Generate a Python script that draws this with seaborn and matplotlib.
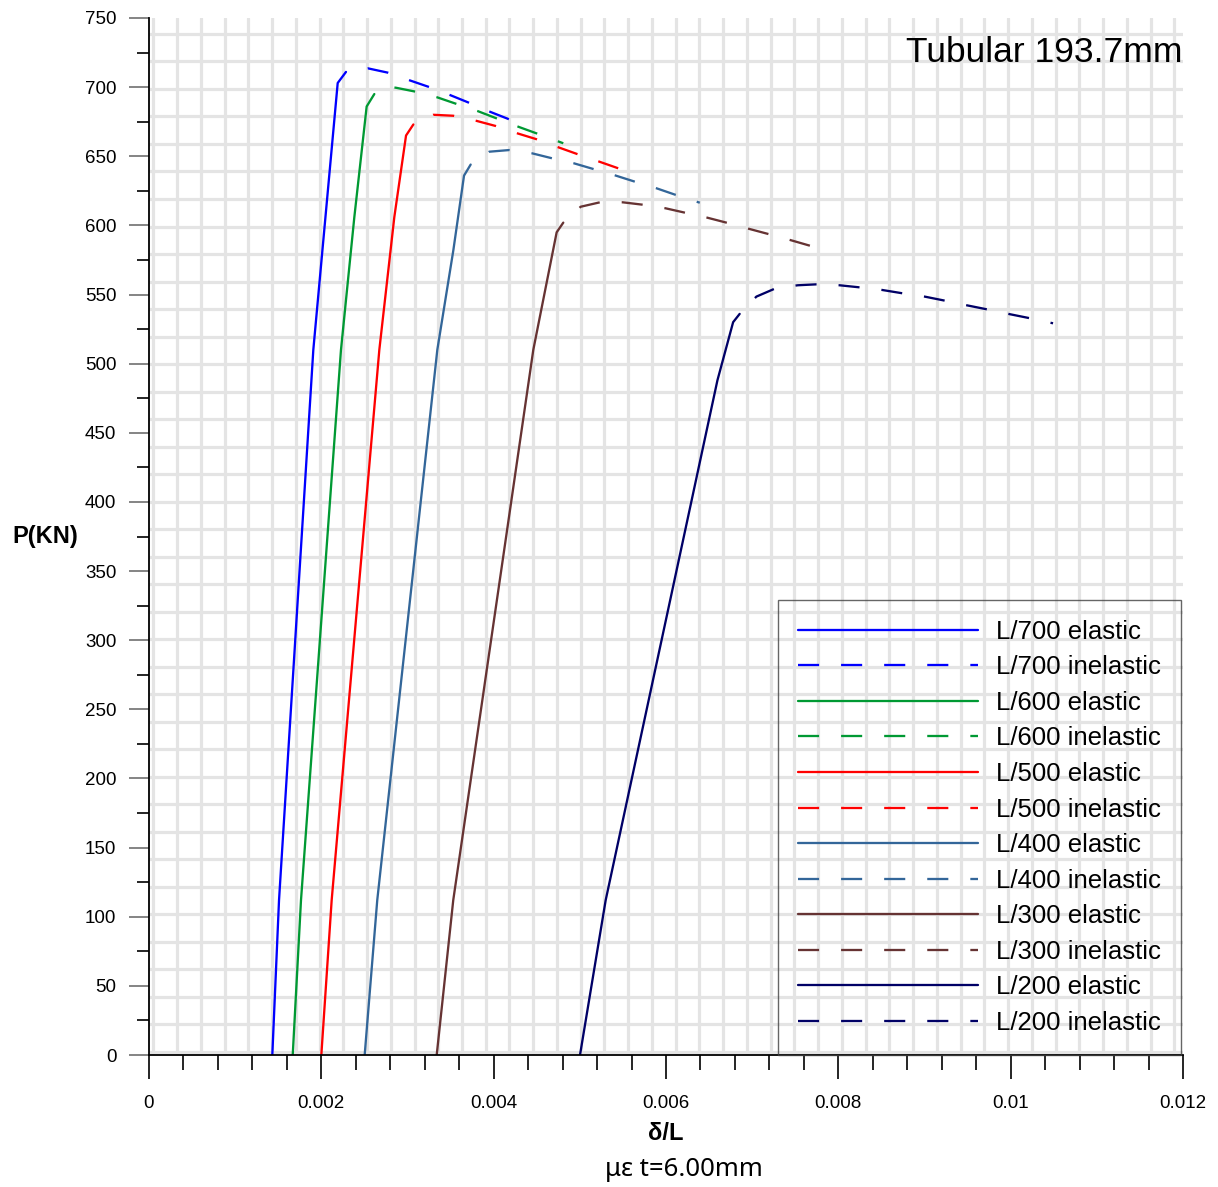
import numpy as np
import pandas as pd
import matplotlib
matplotlib.use("Agg")
import matplotlib.pyplot as plt
import seaborn as sns
from matplotlib.lines import Line2D
from matplotlib.ticker import MultipleLocator

# ---------------- data ----------------
series_names = ["L/700", "L/600", "L/500", "L/400", "L/300", "L/200"]
colors = ["#0000ff", "#009933", "#ff0000", "#336699", "#663333", "#000066"]

# elastic branches (delta/L, P)
el700_x = [0.001431, 0.001509, 0.001907, 0.002190, 0.002286]
el700_p = [0, 112, 510, 703, 711]
el600_x = [0.001668, 0.001764, 0.002228, 0.002383, 0.002526, 0.002615]
el600_p = [0, 112, 510, 606, 686, 695]
el500_x = [0.002000, 0.002120, 0.002673, 0.002847, 0.002983, 0.003068]
el500_p = [0, 112, 510, 606, 665, 673]
el400_x = [0.002503, 0.002649, 0.003346, 0.003532, 0.003656, 0.003733]
el400_p = [0, 112, 510, 582, 636, 644]
el300_x = [0.003339, 0.003531, 0.004460, 0.004731, 0.004808]
el300_p = [0, 112, 510, 595, 602]
el200_x = [0.005002, 0.005300, 0.006597, 0.006779, 0.006855]
el200_p = [0, 112, 488, 530, 536]

# inelastic branches
in700_x = [0.002286, 0.002540, 0.002770, 0.003021, 0.003241, 0.003493, 0.003714, 0.003957, 0.004181]
in700_p = [711, 713.6, 710.5, 705, 700.3, 694.3, 688.7, 682.2, 676.7]
in600_x = [0.002615, 0.002750, 0.002863, 0.003095, 0.003346, 0.003571, 0.003822, 0.004042, 0.004297, 0.004518, 0.004808]
in600_p = [695, 700, 699.6, 696.7, 692.6, 687.8, 682.5, 677.2, 671.1, 666.1, 659.4]
in500_x = [0.003068, 0.003300, 0.003532, 0.003795, 0.004023, 0.004274, 0.004499, 0.004750, 0.004970, 0.005226, 0.005446]
in500_p = [673, 680, 679.3, 675.7, 671.9, 666.6, 662.3, 656.5, 651.6, 646.1, 641.3]
in400_x = [0.003733, 0.003949, 0.004181, 0.004448, 0.004680, 0.004932, 0.005156, 0.005408, 0.005640, 0.005892, 0.006125, 0.006392]
in400_p = [644, 653.3, 654.5, 652.1, 648.5, 644.9, 640.8, 636.2, 631.6, 626.8, 621.8, 616.4]
in300_x = [0.004808, 0.005010, 0.005233, 0.005498, 0.005726, 0.005993, 0.006220, 0.006478, 0.006701, 0.006958, 0.007186, 0.007443, 0.007671]
in300_p = [602, 613.5, 616.7, 616.7, 615, 612.4, 609.2, 605.6, 602, 597.6, 593.8, 589.4, 585.3]
in200_x = [0.006855, 0.007049, 0.007272, 0.007529, 0.007757, 0.008014, 0.008246, 0.008509, 0.008744,
           0.009002, 0.009234, 0.009492, 0.009724, 0.009981, 0.010212, 0.010492]
in200_p = [536, 548.5, 554.5, 556.7, 557.4, 556.7, 555.2, 553.3, 550.9,
           548.5, 545.6, 542.2, 539.3, 535.9, 533, 529.2]

elastic = [(el700_x, el700_p), (el600_x, el600_p), (el500_x, el500_p),
           (el400_x, el400_p), (el300_x, el300_p), (el200_x, el200_p)]
inelastic = [(in700_x, in700_p), (in600_x, in600_p), (in500_x, in500_p),
             (in400_x, in400_p), (in300_x, in300_p), (in200_x, in200_p)]

x_ticks = [0, 0.002, 0.004, 0.006, 0.008, 0.010, 0.012]
x_ticklabels = ["0", "0.002", "0.004", "0.006", "0.008", "0.01", "0.012"]
y_ticks = list(range(0, 751, 50))

# ---------------- style ----------------
sns.set_style("white")
plt.rcParams["font.family"] = ["Liberation Sans", "DejaVu Sans"]
plt.rcParams["text.color"] = "black"
plt.rcParams["axes.labelcolor"] = "black"
plt.rcParams["xtick.color"] = "black"
plt.rcParams["ytick.color"] = "black"

W, H = 1218, 1187
fig = plt.figure(figsize=(W / 100, H / 100), dpi=100)
ax = fig.add_axes([149 / W, 132 / H, 1034 / W, 1037 / H])

# background lattice grid
grid_x = np.linspace(0.00005, 0.0119, 44)
grid_y = np.linspace(2.2, 738.5, 38)
for gx in grid_x:
    ax.axvline(gx, color="#e4e4e4", lw=2.3, zorder=0)
for gy in grid_y:
    ax.axhline(gy, color="#e4e4e4", lw=2.3, zorder=0)

lw = 1.65
on, off = 9.2, 9.6
handles = []
for name, c, (ex, ep), (ix, ip) in zip(series_names, colors, elastic, inelastic):
    d_el = pd.DataFrame({"x": ex, "p": ep})
    sns.lineplot(data=d_el, x="x", y="p", ax=ax, color=c, lw=lw,
                 sort=False, estimator=None, legend=False)
    d_in = pd.DataFrame({"x": ix, "p": ip})
    sns.lineplot(data=d_in, x="x", y="p", ax=ax, color=c, lw=lw,
                 sort=False, estimator=None, legend=False)
    ax.lines[-1].set_linestyle((on, (on, off)))
    handles.append(Line2D([], [], color=c, lw=lw, ls="-", label=f"{name} elastic"))
    handles.append(Line2D([], [], color=c, lw=lw, ls=(0, (on, off)), label=f"{name} inelastic"))

ax.set_xlim(0, 0.012)
ax.set_ylim(0, 750)
ax.set_xlabel("")
ax.set_ylabel("")

for s in ["top", "right"]:
    ax.spines[s].set_visible(False)
for s in ["left", "bottom"]:
    ax.spines[s].set_color("black")
    ax.spines[s].set_linewidth(1.3)
    ax.spines[s].set_zorder(5)

ax.set_xticks(x_ticks)
ax.set_xticklabels(x_ticklabels)
ax.xaxis.set_minor_locator(MultipleLocator(0.0004))
ax.set_yticks(y_ticks)
ax.yaxis.set_minor_locator(MultipleLocator(25))

ax.tick_params(axis="x", which="major", direction="out", length=17, width=1.2,
               color="black", labelcolor="black", labelsize=13.5, pad=12, bottom=True)
ax.tick_params(axis="x", which="minor", direction="out", length=10.5, width=1.2,
               color="black", bottom=True)
ax.tick_params(axis="y", which="major", direction="out", length=14.5, width=1.2,
               color="#707070", labelcolor="black", labelsize=13.5, pad=9, left=True)
ax.tick_params(axis="y", which="minor", direction="out", length=8.5, width=1.2,
               color="black", left=True)

leg = ax.legend(handles=handles, loc="lower right", bbox_to_anchor=(1181 / W, 132 / H),
                bbox_transform=fig.transFigure, borderaxespad=0, fontsize=18.5,
                handlelength=7.0, handletextpad=0.72, labelspacing=0.45,
                borderpad=0.78, frameon=True, fancybox=False)
leg.get_frame().set_facecolor("none")
leg.get_frame().set_edgecolor("#404040")
leg.get_frame().set_linewidth(1.0)
for t in leg.get_texts():
    t.set_color("black")

fig.text(12 / W, 1 - 537 / H, "P(KN)", fontsize=17, fontweight="bold",
         ha="left", va="center", color="black")
fig.text(666 / W, 1 - 1133 / H, "δ/L", fontsize=17, fontweight="bold",
         ha="center", va="center", color="black")
fig.text(684 / W, 1 - 1170 / H, "με t=6.00mm", fontsize=18.5,
         ha="center", va="center", family=["Noto Sans", "DejaVu Sans"], color="black")
fig.text(1182 / W, 1 - 53 / H, "Tubular 193.7mm", fontsize=25.5,
         ha="right", va="center", color="black")

fig.savefig("out.png", dpi=100)
